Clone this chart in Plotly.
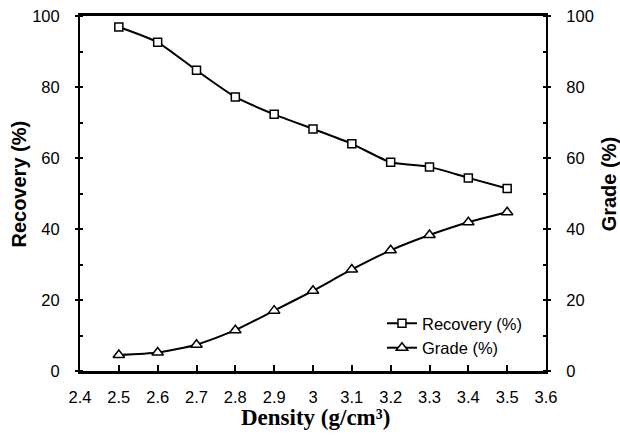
import plotly.graph_objects as go

density = [2.5, 2.6, 2.7, 2.8, 2.9, 3.0, 3.1, 3.2, 3.3, 3.4, 3.5]
recovery = [96.9, 92.6, 84.7, 77.2, 72.3, 68.2, 64.0, 58.8, 57.5, 54.4, 51.4]
grade = [4.5, 5.2, 7.4, 11.5, 17.0, 22.6, 28.6, 34.0, 38.3, 41.9, 44.7]
x_ticks = [2.4, 2.5, 2.6, 2.7, 2.8, 2.9, 3.0, 3.1, 3.2, 3.3, 3.4, 3.5, 3.6]
x_tick_labels = ["2.4", "2.5", "2.6", "2.7", "2.8", "2.9", "3", "3.1", "3.2", "3.3", "3.4", "3.5", "3.6"]

fig = go.Figure()
fig.add_trace(go.Scatter(x=density, y=recovery, name="Recovery (%)", mode="lines+markers", yaxis="y",
                         line=dict(color="black", width=2, shape="spline", smoothing=0.6),
                         marker=dict(symbol="square", size=8, color="white", line=dict(color="black", width=1.5))))
fig.add_trace(go.Scatter(x=density, y=grade, name="Grade (%)", mode="lines+markers", yaxis="y2",
                         line=dict(color="black", width=2, shape="spline", smoothing=0.6),
                         marker=dict(symbol="triangle-up", size=10, color="white", line=dict(color="black", width=1.5))))

tickfont = dict(family="Liberation Sans, Arial", size=16.5, color="black")
ycommon = dict(range=[0, 100], dtick=20, ticks="outside", ticklen=3, tickcolor="black", tickwidth=1.5,
               minor=dict(dtick=10, ticks="inside", ticklen=3, tickcolor="black", tickwidth=1.5),
               showline=True, linecolor="black", linewidth=2, showgrid=False, zeroline=False,
               tickfont=tickfont, automargin=False, ticklabelstandoff=12, ticklabeloverflow="allow")
fig.update_layout(
    width=620, height=435,
    margin=dict(l=79.5, r=73.5, t=15.5, b=64),
    plot_bgcolor="white", paper_bgcolor="white",
    showlegend=True,
    legend=dict(x=0.648, y=0.183, xanchor="left", yanchor="top", bgcolor="rgba(0,0,0,0)",
                font=dict(family="Liberation Sans, Arial", size=16.5, color="black"), tracegroupgap=0),
    xaxis=dict(domain=[0, 1], range=[2.4, 3.6], tickvals=x_ticks, ticktext=x_tick_labels, ticks="inside", ticklen=6,
               tickcolor="black", tickwidth=1.5, showline=True, linecolor="black", linewidth=2.5,
               mirror=True, showgrid=False, zeroline=False, tickfont=tickfont, automargin=False,
               ticklabelstandoff=9, ticklabeloverflow="allow"),
    yaxis=dict(**ycommon, side="left"),
    yaxis2=dict(**ycommon, side="right", overlaying="y", anchor="x"),
    annotations=[
        dict(text="<b>Density (g/cm³)</b>", xref="paper", yref="paper", x=0.505, y=-0.132,
             xanchor="center", yanchor="middle", showarrow=False,
             font=dict(family="Liberation Serif, Times New Roman", size=23, color="black")),
        dict(text="<b>Recovery (%)</b>", xref="paper", yref="paper", x=-0.1317, y=0.527, textangle=-90,
             xanchor="center", yanchor="middle", showarrow=False,
             font=dict(family="Liberation Sans, Arial", size=20, color="black")),
        dict(text="<b>Grade (%)</b>", xref="paper", yref="paper", x=1.134, y=0.527, textangle=-90,
             xanchor="center", yanchor="middle", showarrow=False,
             font=dict(family="Liberation Sans, Arial", size=20, color="black")),
    ],
)

fig.write_html("out.html", config={"displayModeBar": False},
               post_script="document.body.style.margin='0px';document.body.style.overflow='hidden';")
